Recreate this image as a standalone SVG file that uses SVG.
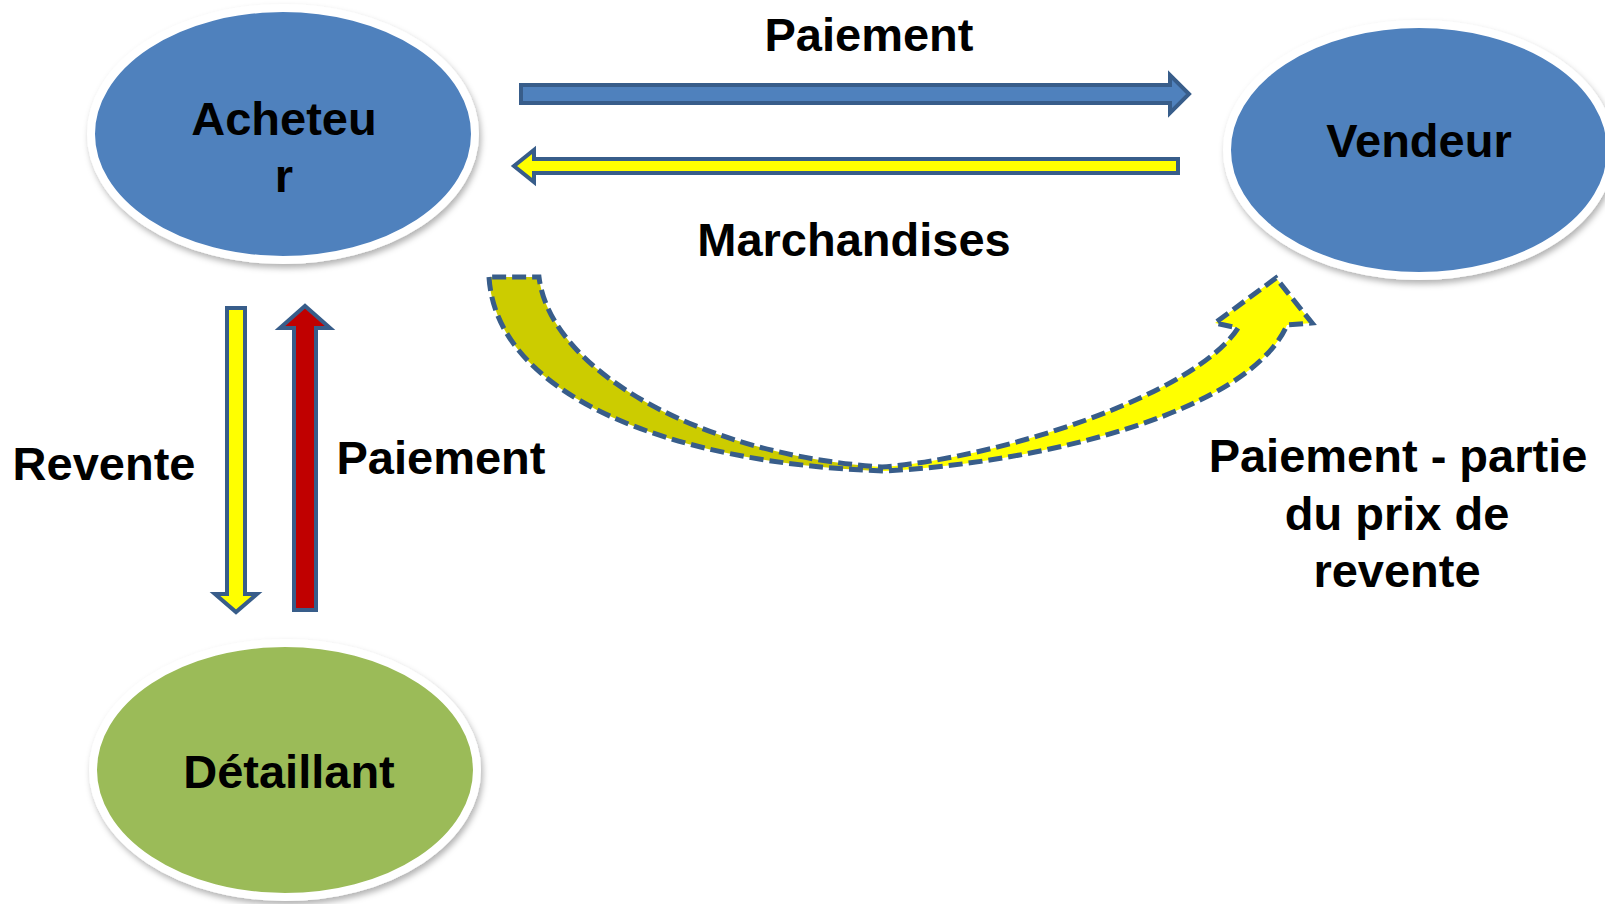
<svg xmlns="http://www.w3.org/2000/svg" width="1605" height="904" viewBox="0 0 1605 904">
<style>
.lbl{font-family:"Liberation Sans",Arial,sans-serif;font-weight:bold;font-size:47px;fill:#000;text-anchor:middle}
.node{stroke:#fff;stroke-width:8}
.arr{stroke:#385D8A;stroke-width:4;stroke-linejoin:miter}
.dash{stroke:#385D8A;stroke-width:5;stroke-dasharray:14 6;stroke-linejoin:miter}
</style>
<defs>
<filter id="sh" x="-10%" y="-10%" width="125%" height="130%">
<feDropShadow dx="2" dy="4" stdDeviation="3" flood-color="#000" flood-opacity="0.3"/>
</filter>
<linearGradient id="cg" gradientUnits="userSpaceOnUse" x1="480" y1="0" x2="1320" y2="0">
<stop offset="0" stop-color="#CCCC00"/>
<stop offset="0.464" stop-color="#CCCC00"/>
<stop offset="0.464" stop-color="#FFFF00"/>
<stop offset="1" stop-color="#FFFF00"/>
</linearGradient>
</defs>
<rect width="1605" height="904" fill="#fff"/>
<g id="connectors">
<polygon class="arr" fill="#4F81BD" points="521,85 1170,85 1170,75 1189,94 1170,113 1170,103 521,103"/>
<polygon class="arr" fill="#FFFF00" points="1178,159 534,159 534,150 514,166 534,182 534,173 1178,173"/>
<polygon class="arr" fill="#FFFF00" points="227,308 245,308 245,594 257,594 236,612 215,594 227,594"/>
<polygon class="arr" fill="#C00000" points="294,610 316,610 316,328 330,328 305,306 280,328 294,328"/>
<path class="dash" fill="url(#cg)" d="M489,277 C496,395 670,464 885,471 C1050,462 1250,410 1287,325 L1312,323 L1276,278 L1215,323 L1238,328 C1195,395 1000,458 882,467 C700,455 550,370 539,277 Z"/>
</g>
<g id="acheteur">
<ellipse class="node" cx="283" cy="134" rx="192" ry="126" fill="#4F81BD" filter="url(#sh)"/>
<text class="lbl" x="284" y="135">Acheteu</text>
<text class="lbl" x="284" y="192">r</text>
</g>
<g id="vendeur">
<ellipse class="node" cx="1419" cy="150" rx="192" ry="126" fill="#4F81BD" filter="url(#sh)"/>
<text class="lbl" x="1419" y="157">Vendeur</text>
</g>
<g id="detaillant">
<ellipse class="node" cx="285" cy="770" rx="192" ry="127" fill="#9BBB59" filter="url(#sh)"/>
<text class="lbl" x="289" y="788">Détaillant</text>
</g>
<g id="labels">
<text class="lbl" x="869" y="51">Paiement</text>
<text class="lbl" x="854" y="256">Marchandises</text>
<text class="lbl" x="104" y="480">Revente</text>
<text class="lbl" x="441" y="474">Paiement</text>
<text class="lbl" x="1398" y="472">Paiement - partie</text>
<text class="lbl" x="1397" y="530">du prix de</text>
<text class="lbl" x="1397" y="587">revente</text>
</g>
</svg>
